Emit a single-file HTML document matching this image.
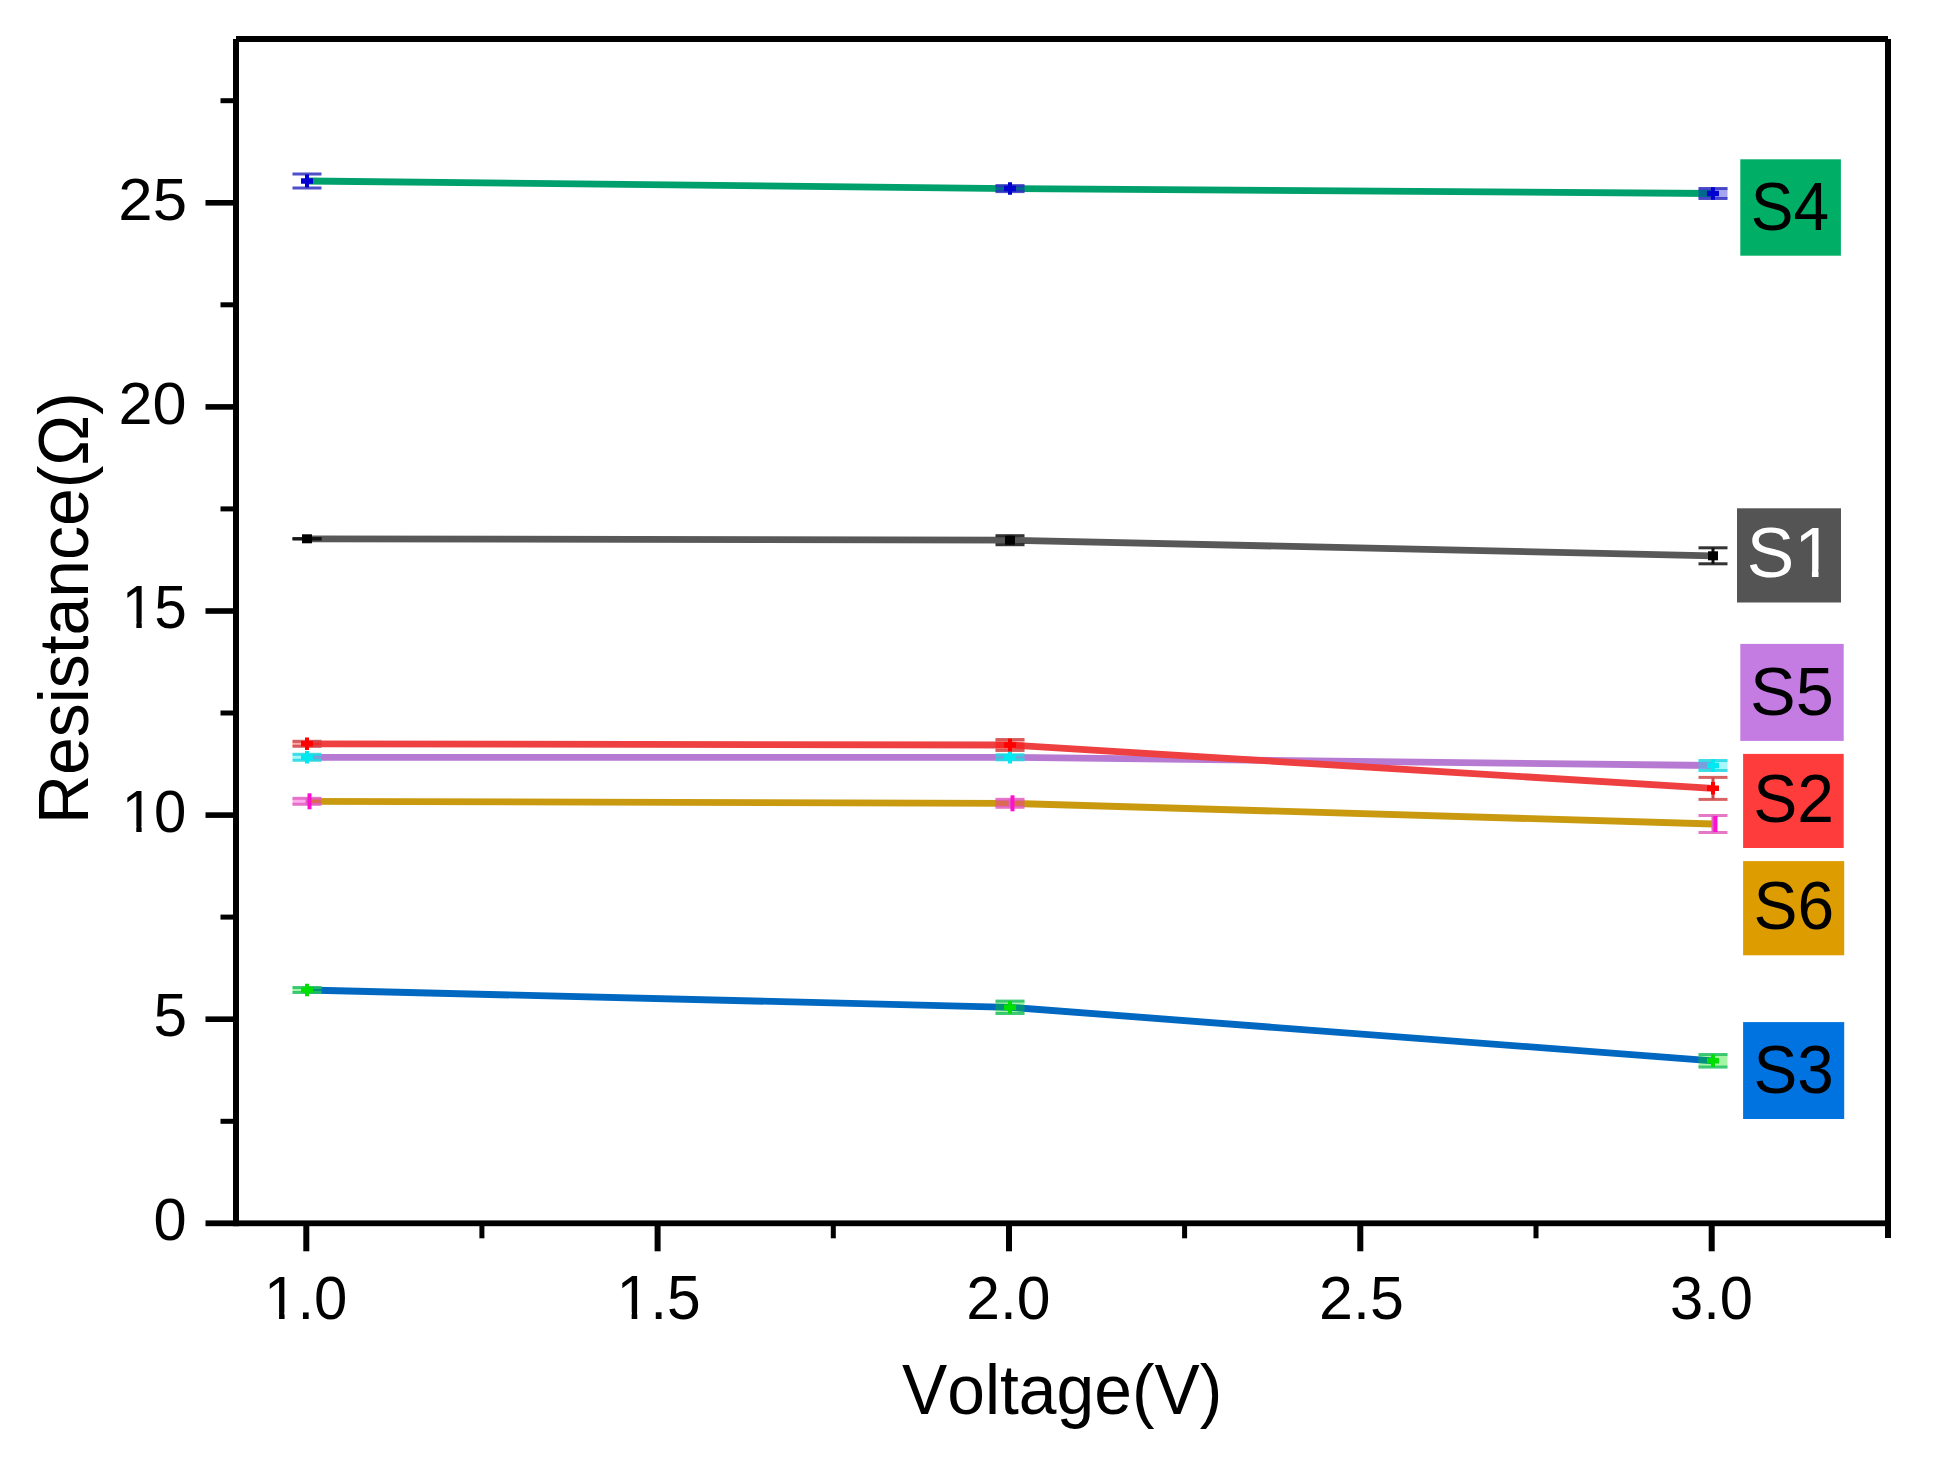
<!DOCTYPE html>
<html><head><meta charset="utf-8"><title>Resistance vs Voltage</title>
<style>html,body{margin:0;padding:0;background:#fff;overflow:hidden}svg{display:block}</style>
</head><body>
<svg width="1941" height="1460" viewBox="0 0 1941 1460">
<defs><clipPath id="f1"><path d="M-5000 -5000H20000V5000H-5000ZM14.65 -30.76H74.85V18.00H14.65ZM102.54 -30.76H161.13V18.00H102.54Z" clip-rule="evenodd"/></clipPath>
<clipPath id="f2"><path d="M-5000 -5000H20000V5000H-5000ZM14.65 -30.76H74.85V18.00H14.65ZM102.54 -30.76H161.13V18.00H102.54Z" clip-rule="evenodd"/></clipPath>
<clipPath id="f3"><path d="M-5000 -5000H20000V5000H-5000ZM14.65 -30.76H74.85V18.00H14.65ZM102.54 -30.76H161.13V18.00H102.54Z" clip-rule="evenodd"/></clipPath>
<clipPath id="f4"><path d="M-5000 -5000H20000V5000H-5000ZM14.65 -30.76H74.85V18.00H14.65ZM102.54 -30.76H161.13V18.00H102.54Z" clip-rule="evenodd"/></clipPath>
<clipPath id="f5"><path d="M-5000 -5000H20000V5000H-5000ZM214.75 -30.76H274.95V18.00H214.75ZM302.64 -30.76H361.23V18.00H302.64Z" clip-rule="evenodd"/></clipPath></defs>
<rect width="1941" height="1460" fill="#ffffff"/>
<path d="M307.0 181.0 L1010.0 188.6 L1713.0 193.5" fill="none" stroke="#00A06C" stroke-width="6.8" stroke-linejoin="round"/>
<path d="M307.0 538.8 L1010.0 540.2 L1713.0 555.8" fill="none" stroke="#585858" stroke-width="6.8" stroke-linejoin="round"/>
<path d="M307.0 757.3 L1010.0 757.3 L1713.0 765.5" fill="none" stroke="#B77AD2" stroke-width="6.8" stroke-linejoin="round"/>
<path d="M307.0 743.8 L1010.0 745.0 L1713.0 788.4" fill="none" stroke="#EE4040" stroke-width="6.8" stroke-linejoin="round"/>
<path d="M307.0 801.3 L1010.0 803.3 L1713.0 824.0" fill="none" stroke="#C99A10" stroke-width="6.8" stroke-linejoin="round"/>
<path d="M307.0 990.0 L1010.0 1007.3 L1713.0 1060.8" fill="none" stroke="#0068C0" stroke-width="6.8" stroke-linejoin="round"/>
<rect x="305.5" y="174.0" width="3" height="14.0" fill="#3030C0"/>
<rect x="292.5" y="172.5" width="29" height="3" fill="#3030C0" fill-opacity="0.85"/>
<rect x="292.5" y="186.5" width="29" height="3" fill="#3030C0" fill-opacity="0.85"/>
<path d="M301.0 178.2h4v-3.5h4v3.5h4v5.5h-4v3.5h-4v-3.5h-4z" fill="#0000D0"/>
<rect x="995.5" y="185.6" width="29" height="6.0" fill="#0000D0" fill-opacity="0.35"/>
<rect x="1008.5" y="185.6" width="3" height="6.0" fill="#3030C0"/>
<rect x="995.5" y="184.1" width="29" height="3" fill="#3030C0" fill-opacity="0.85"/>
<rect x="995.5" y="190.1" width="29" height="3" fill="#3030C0" fill-opacity="0.85"/>
<path d="M1004.0 185.8h4v-3.5h4v3.5h4v5.5h-4v3.5h-4v-3.5h-4z" fill="#0000D0"/>
<rect x="1698.5" y="188.5" width="29" height="10.0" fill="#0000D0" fill-opacity="0.35"/>
<rect x="1711.5" y="188.5" width="3" height="10.0" fill="#3030C0"/>
<rect x="1698.5" y="187.0" width="29" height="3" fill="#3030C0" fill-opacity="0.85"/>
<rect x="1698.5" y="197.0" width="29" height="3" fill="#3030C0" fill-opacity="0.85"/>
<path d="M1707.0 190.8h4v-3.5h4v3.5h4v5.5h-4v3.5h-4v-3.5h-4z" fill="#0000D0"/>
<rect x="305.5" y="538.5" width="3" height="0.6" fill="#101010"/>
<rect x="292.5" y="537.0" width="29" height="3" fill="#101010" fill-opacity="0.85"/>
<rect x="292.5" y="537.6" width="29" height="3" fill="#101010" fill-opacity="0.85"/>
<rect x="302.0" y="534.3" width="10" height="9" fill="#000000"/>
<rect x="1008.5" y="535.7" width="3" height="9.0" fill="#101010"/>
<rect x="995.5" y="534.2" width="29" height="3" fill="#101010" fill-opacity="0.85"/>
<rect x="995.5" y="543.2" width="29" height="3" fill="#101010" fill-opacity="0.85"/>
<rect x="1005.0" y="535.7" width="10" height="9" fill="#000000"/>
<rect x="1711.5" y="547.8" width="3" height="16.0" fill="#101010"/>
<rect x="1698.5" y="546.3" width="29" height="3" fill="#101010" fill-opacity="0.85"/>
<rect x="1698.5" y="562.3" width="29" height="3" fill="#101010" fill-opacity="0.85"/>
<rect x="1708.0" y="551.3" width="10" height="9" fill="#000000"/>
<rect x="292.5" y="754.3" width="29" height="6.0" fill="#00E8F0" fill-opacity="0.35"/>
<rect x="305.5" y="754.3" width="3" height="6.0" fill="#20D8E0"/>
<rect x="292.5" y="752.8" width="29" height="3" fill="#20D8E0" fill-opacity="0.85"/>
<rect x="292.5" y="758.8" width="29" height="3" fill="#20D8E0" fill-opacity="0.85"/>
<path d="M301.0 754.5h4v-3.5h4v3.5h4v5.5h-4v3.5h-4v-3.5h-4z" fill="#00E8F0"/>
<rect x="995.5" y="754.8" width="29" height="5.0" fill="#00E8F0" fill-opacity="0.35"/>
<rect x="1008.5" y="754.8" width="3" height="5.0" fill="#20D8E0"/>
<rect x="995.5" y="753.3" width="29" height="3" fill="#20D8E0" fill-opacity="0.85"/>
<rect x="995.5" y="758.3" width="29" height="3" fill="#20D8E0" fill-opacity="0.85"/>
<path d="M1004.0 754.5h4v-3.5h4v3.5h4v5.5h-4v3.5h-4v-3.5h-4z" fill="#00E8F0"/>
<rect x="1698.5" y="760.5" width="29" height="10.0" fill="#00E8F0" fill-opacity="0.35"/>
<rect x="1711.5" y="760.5" width="3" height="10.0" fill="#20D8E0"/>
<rect x="1698.5" y="759.0" width="29" height="3" fill="#20D8E0" fill-opacity="0.85"/>
<rect x="1698.5" y="769.0" width="29" height="3" fill="#20D8E0" fill-opacity="0.85"/>
<path d="M1707.0 762.8h4v-3.5h4v3.5h4v5.5h-4v3.5h-4v-3.5h-4z" fill="#00E8F0"/>
<rect x="292.5" y="741.3" width="29" height="5.0" fill="#FF0000" fill-opacity="0.35"/>
<rect x="305.5" y="741.3" width="3" height="5.0" fill="#D04848"/>
<rect x="292.5" y="739.8" width="29" height="3" fill="#D04848" fill-opacity="0.85"/>
<rect x="292.5" y="744.8" width="29" height="3" fill="#D04848" fill-opacity="0.85"/>
<path d="M301.0 741.0h4v-3.5h4v3.5h4v5.5h-4v3.5h-4v-3.5h-4z" fill="#FF0000"/>
<rect x="995.5" y="739.5" width="29" height="11.0" fill="#FF0000" fill-opacity="0.35"/>
<rect x="1008.5" y="739.5" width="3" height="11.0" fill="#D04848"/>
<rect x="995.5" y="738.0" width="29" height="3" fill="#D04848" fill-opacity="0.85"/>
<rect x="995.5" y="749.0" width="29" height="3" fill="#D04848" fill-opacity="0.85"/>
<path d="M1004.0 742.2h4v-3.5h4v3.5h4v5.5h-4v3.5h-4v-3.5h-4z" fill="#FF0000"/>
<rect x="1711.5" y="777.4" width="3" height="22.0" fill="#D04848"/>
<rect x="1698.5" y="775.9" width="29" height="3" fill="#D04848" fill-opacity="0.85"/>
<rect x="1698.5" y="797.9" width="29" height="3" fill="#D04848" fill-opacity="0.85"/>
<path d="M1707.0 785.6h4v-3.5h4v3.5h4v5.5h-4v3.5h-4v-3.5h-4z" fill="#FF0000"/>
<rect x="292.5" y="798.3" width="29" height="6.0" fill="#FF10D0" fill-opacity="0.35"/>
<rect x="305.5" y="798.3" width="3" height="6.0" fill="#E060C0"/>
<rect x="292.5" y="796.8" width="29" height="3" fill="#E060C0" fill-opacity="0.85"/>
<rect x="292.5" y="802.8" width="29" height="3" fill="#E060C0" fill-opacity="0.85"/>
<rect x="307.5" y="793.3" width="4" height="16" fill="#FF10D0"/>
<rect x="995.5" y="799.3" width="29" height="8.0" fill="#FF10D0" fill-opacity="0.35"/>
<rect x="1008.5" y="799.3" width="3" height="8.0" fill="#E060C0"/>
<rect x="995.5" y="797.8" width="29" height="3" fill="#E060C0" fill-opacity="0.85"/>
<rect x="995.5" y="805.8" width="29" height="3" fill="#E060C0" fill-opacity="0.85"/>
<rect x="1010.5" y="795.3" width="4" height="16" fill="#FF10D0"/>
<rect x="1711.5" y="815.5" width="3" height="17.0" fill="#E060C0"/>
<rect x="1698.5" y="814.0" width="29" height="3" fill="#E060C0" fill-opacity="0.85"/>
<rect x="1698.5" y="831.0" width="29" height="3" fill="#E060C0" fill-opacity="0.85"/>
<rect x="1713.5" y="816.0" width="4" height="16" fill="#FF10D0"/>
<rect x="292.5" y="987.5" width="29" height="5.0" fill="#00E000" fill-opacity="0.35"/>
<rect x="305.5" y="987.5" width="3" height="5.0" fill="#20C060"/>
<rect x="292.5" y="986.0" width="29" height="3" fill="#20C060" fill-opacity="0.85"/>
<rect x="292.5" y="991.0" width="29" height="3" fill="#20C060" fill-opacity="0.85"/>
<path d="M301.0 987.2h4v-3.5h4v3.5h4v5.5h-4v3.5h-4v-3.5h-4z" fill="#00E000"/>
<rect x="995.5" y="1001.1" width="29" height="12.4" fill="#00E000" fill-opacity="0.35"/>
<rect x="1008.5" y="1001.1" width="3" height="12.4" fill="#20C060"/>
<rect x="995.5" y="999.6" width="29" height="3" fill="#20C060" fill-opacity="0.85"/>
<rect x="995.5" y="1012.0" width="29" height="3" fill="#20C060" fill-opacity="0.85"/>
<path d="M1004.0 1004.5h4v-3.5h4v3.5h4v5.5h-4v3.5h-4v-3.5h-4z" fill="#00E000"/>
<rect x="1698.5" y="1054.5" width="29" height="12.6" fill="#00E000" fill-opacity="0.35"/>
<rect x="1711.5" y="1054.5" width="3" height="12.6" fill="#20C060"/>
<rect x="1698.5" y="1053.0" width="29" height="3" fill="#20C060" fill-opacity="0.85"/>
<rect x="1698.5" y="1065.6" width="29" height="3" fill="#20C060" fill-opacity="0.85"/>
<path d="M1707.0 1058.0h4v-3.5h4v3.5h4v5.5h-4v3.5h-4v-3.5h-4z" fill="#00E000"/>
<rect x="233" y="39" width="6" height="1187.2" fill="#000"/>
<rect x="236" y="36" width="1652" height="6" fill="#000"/>
<rect x="1885" y="39" width="6" height="1199" fill="#000"/>
<rect x="205.5" y="1220.4" width="1685.5" height="5.8" fill="#000"/>
<rect x="205.5" y="1016.4" width="30" height="5.6" fill="#000"/>
<rect x="205.5" y="812.3" width="30" height="5.6" fill="#000"/>
<rect x="205.5" y="608.2" width="30" height="5.6" fill="#000"/>
<rect x="205.5" y="404.1" width="30" height="5.6" fill="#000"/>
<rect x="205.5" y="200.0" width="30" height="5.6" fill="#000"/>
<rect x="220.5" y="1118.8" width="15" height="5" fill="#000"/>
<rect x="220.5" y="914.6" width="15" height="5" fill="#000"/>
<rect x="220.5" y="710.5" width="15" height="5" fill="#000"/>
<rect x="220.5" y="506.4" width="15" height="5" fill="#000"/>
<rect x="220.5" y="302.3" width="15" height="5" fill="#000"/>
<rect x="220.5" y="98.2" width="15" height="5" fill="#000"/>
<rect x="303.3" y="1223" width="6" height="28.3" fill="#000"/>
<rect x="654.6" y="1223" width="6" height="28.3" fill="#000"/>
<rect x="1006.0" y="1223" width="6" height="28.3" fill="#000"/>
<rect x="1357.3" y="1223" width="6" height="28.3" fill="#000"/>
<rect x="1708.7" y="1223" width="6" height="28.3" fill="#000"/>
<rect x="479.4" y="1223" width="5" height="15.3" fill="#000"/>
<rect x="830.8" y="1223" width="5" height="15.3" fill="#000"/>
<rect x="1182.1" y="1223" width="5" height="15.3" fill="#000"/>
<rect x="1533.5" y="1223" width="5" height="15.3" fill="#000"/>
<text transform="translate(153.42 1240.30) scale(0.19860 0.20000)" x="0" y="0" font-family='"Liberation Sans", Arial, sans-serif' font-size="300" style="font-kerning:none;font-feature-settings:'kern' 0" fill="#000">0</text>
<text transform="translate(153.38 1036.19) scale(0.20141 0.20190)" x="0" y="0" font-family='"Liberation Sans", Arial, sans-serif' font-size="300" style="font-kerning:none;font-feature-settings:'kern' 0" fill="#000">5</text>
<text transform="translate(121.79 832.10) scale(0.19352 0.20000)" x="0" y="0" font-family='"Liberation Sans", Arial, sans-serif' font-size="300" style="font-kerning:none;font-feature-settings:'kern' 0" fill="#000" clip-path="url(#f1)">10</text>
<text transform="translate(121.74 627.99) scale(0.19521 0.20190)" x="0" y="0" font-family='"Liberation Sans", Arial, sans-serif' font-size="300" style="font-kerning:none;font-feature-settings:'kern' 0" fill="#000" clip-path="url(#f2)">15</text>
<text transform="translate(118.44 423.90) scale(0.20391 0.20000)" x="0" y="0" font-family='"Liberation Sans", Arial, sans-serif' font-size="300" style="font-kerning:none;font-feature-settings:'kern' 0" fill="#000">20</text>
<text transform="translate(118.31 219.80) scale(0.20588 0.20000)" x="0" y="0" font-family='"Liberation Sans", Arial, sans-serif' font-size="300" style="font-kerning:none;font-feature-settings:'kern' 0" fill="#000">25</text>
<text transform="translate(264.11 1318.58) scale(0.19973 0.20566)" x="0" y="0" font-family='"Liberation Sans", Arial, sans-serif' font-size="300" style="font-kerning:none;font-feature-settings:'kern' 0" fill="#000" clip-path="url(#f3)">1.0</text>
<text transform="translate(616.55 1318.58) scale(0.20187 0.20762)" x="0" y="0" font-family='"Liberation Sans", Arial, sans-serif' font-size="300" style="font-kerning:none;font-feature-settings:'kern' 0" fill="#000" clip-path="url(#f4)">1.5</text>
<text transform="translate(966.27 1318.58) scale(0.20205 0.20566)" x="0" y="0" font-family='"Liberation Sans", Arial, sans-serif' font-size="300" style="font-kerning:none;font-feature-settings:'kern' 0" fill="#000">2.0</text>
<text transform="translate(1319.05 1318.58) scale(0.20334 0.20566)" x="0" y="0" font-family='"Liberation Sans", Arial, sans-serif' font-size="300" style="font-kerning:none;font-feature-settings:'kern' 0" fill="#000">2.5</text>
<text transform="translate(1670.01 1318.58) scale(0.19898 0.20566)" x="0" y="0" font-family='"Liberation Sans", Arial, sans-serif' font-size="300" style="font-kerning:none;font-feature-settings:'kern' 0" fill="#000">3.0</text>
<text transform="translate(902.05 1414.20) scale(0.22598 0.23256)" x="0" y="0" font-family='"Liberation Sans", Arial, sans-serif' font-size="300" style="font-kerning:none;font-feature-settings:'kern' 0" fill="#000">Voltage(V)</text>
<text transform="translate(87.80 824.06) rotate(-90) scale(0.22629 0.23402)" x="0" y="0" font-family='"Liberation Sans", Arial, sans-serif' font-size="300" style="font-kerning:none;font-feature-settings:'kern' 0" fill="#000">Resistance(Ω)</text>
<rect x="1740.3" y="159.3" width="100.6" height="96.4" fill="#00AE66"/>
<text transform="translate(1750.71 229.61) scale(0.21337 0.23066)" x="0" y="0" font-family='"Liberation Sans", Arial, sans-serif' font-size="300" style="font-kerning:none;font-feature-settings:'kern' 0" fill="#000">S4</text>
<rect x="1737.0" y="508.3" width="104.0" height="94.2" fill="#545454"/>
<text transform="translate(1746.68 576.80) scale(0.23737 0.23443)" x="0" y="0" font-family='"Liberation Sans", Arial, sans-serif' font-size="300" style="font-kerning:none;font-feature-settings:'kern' 0" fill="#fff" clip-path="url(#f5)">S1</text>
<rect x="1740.3" y="643.9" width="103.4" height="97.0" fill="#C47CE2"/>
<text transform="translate(1750.00 714.71) scale(0.22824 0.23019)" x="0" y="0" font-family='"Liberation Sans", Arial, sans-serif' font-size="300" style="font-kerning:none;font-feature-settings:'kern' 0" fill="#000">S5</text>
<rect x="1743.1" y="753.9" width="100.6" height="94.1" fill="#FF3C3C"/>
<text transform="translate(1753.32 821.91) scale(0.22012 0.23019)" x="0" y="0" font-family='"Liberation Sans", Arial, sans-serif' font-size="300" style="font-kerning:none;font-feature-settings:'kern' 0" fill="#000">S2</text>
<rect x="1743.1" y="861.1" width="101.1" height="94.2" fill="#DD9C00"/>
<text transform="translate(1753.42 928.71) scale(0.22000 0.23066)" x="0" y="0" font-family='"Liberation Sans", Arial, sans-serif' font-size="300" style="font-kerning:none;font-feature-settings:'kern' 0" fill="#000">S6</text>
<rect x="1743.1" y="1022.1" width="101.1" height="96.9" fill="#0073E0"/>
<text transform="translate(1753.44 1092.91) scale(0.21882 0.23066)" x="0" y="0" font-family='"Liberation Sans", Arial, sans-serif' font-size="300" style="font-kerning:none;font-feature-settings:'kern' 0" fill="#000">S3</text>
</svg>
</body></html>
